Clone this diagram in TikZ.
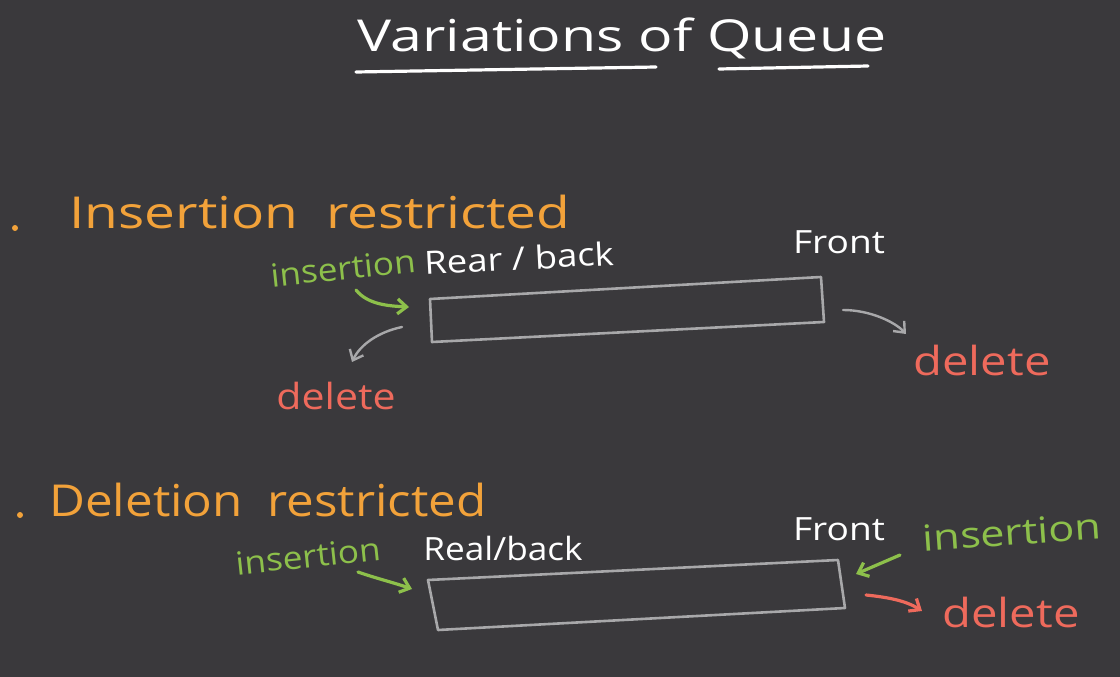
\documentclass[tikz,border=0pt]{standalone}
\usepackage{fontspec}
\setmainfont{Open Sans}
\usetikzlibrary{arrows.meta}
\definecolor{bg}{HTML}{3A393C}
\definecolor{orng}{HTML}{F2A23A}
\definecolor{grn}{HTML}{8DC04B}
\definecolor{redd}{HTML}{EE6A5C}
\definecolor{gry}{HTML}{A8A8AA}
\begin{document}
\begin{tikzpicture}[x=1pt,y=-1pt,
  title/.style={text=white,font=\fontsize{44}{48}\selectfont,inner sep=0pt},
  heading/.style={text=orng,font=\fontsize{44}{48}\selectfont,inner sep=0pt},
  lbl/.style={text=white,font=\fontsize{32}{36}\selectfont,inner sep=0pt},
  ins/.style={text=grn,font=\fontsize{32}{36}\selectfont,inner sep=0pt},
  insbig/.style={text=grn,font=\fontsize{36}{40}\selectfont,inner sep=0pt},
  del/.style={text=redd,font=\fontsize{36}{40}\selectfont,inner sep=0pt},
  delbig/.style={text=redd,font=\fontsize{40}{44}\selectfont,inner sep=0pt},
  qbox/.style={draw=gry,line width=2.6pt,line join=round},
  garrow/.style={draw=grn,line width=3.2pt,line cap=round,-{Straight Barb[length=9pt,width=15pt,line width=3.2pt]}},
  rarrow/.style={draw=redd,line width=3.2pt,line cap=round,-{Straight Barb[length=9pt,width=15pt,line width=3.2pt]}},
  yarrow/.style={draw=gry,line width=2.4pt,line cap=round,-{Straight Barb[length=9pt,width=15pt,line width=2.4pt]}},
  uline/.style={draw=white,line width=3.2pt,line cap=round},
  dot/.style={circle,fill=orng,inner sep=0pt,minimum size=6pt}]
\fill[bg] (0,0) rectangle (1120,677);
\useasboundingbox (0,0) rectangle (1120,677);

% title
\node[title] (title) at (622,38) {\scalebox{1.3}[1]{Variations of Queue}};
\coordinate (u1a) at (356,72); \coordinate (u1b) at (656,67);
\coordinate (u2a) at (719,69); \coordinate (u2b) at (868,66);
\draw[uline] (u1a) -- (u1b);
\draw[uline] (u2a) -- (u2b);

% ---------- Insertion restricted ----------
\node[dot] (b1) at (15,228) {};
\node[heading] (h1) at (320,212) {\scalebox{1.25}[1]{Insertion\hspace{0.5em}restricted}};
\node[ins,rotate=6] (ins1) at (343,268) {\scalebox{1.1}[1]{insertion}};
\node[lbl,rotate=3] (rear1) at (519,258) {\scalebox{1.14}[1]{Rear / back}};
\node[lbl] (front1) at (839,242) {\scalebox{1.16}[1]{Front}};
\coordinate (q1a) at (430,299); \coordinate (q1b) at (821,277);
\coordinate (q1c) at (824,322); \coordinate (q1d) at (432,342);
\draw[qbox] (q1a) -- (q1b) -- (q1c) -- (q1d) -- cycle;
\node[del] (d1) at (336,396) {\scalebox{1.14}[1]{delete}};
\node[delbig] (d2) at (982,360) {\scalebox{1.18}[1]{delete}};
\coordinate (a1s) at (356,290); \coordinate (a1e) at (409,307);
\draw[garrow] (a1s) .. controls (368,305) and (390,306) .. (a1e);
\coordinate (a2s) at (402,327); \coordinate (a2e) at (352,362);
\draw[yarrow] (a2s) .. controls (378,332) and (360,345) .. (a2e);
\coordinate (a3s) at (843,310); \coordinate (a3e) at (906,334);
\draw[yarrow] (a3s) .. controls (870,310) and (895,322) .. (a3e);

% ---------- Deletion restricted ----------
\node[dot] (b2) at (20,515) {};
\node[heading] (h2) at (268,500) {\scalebox{1.12}[1]{Deletion\hspace{0.5em}restricted}};
\node[ins,rotate=6] (ins2) at (308,556) {\scalebox{1.1}[1]{insertion}};
\node[lbl] (rear2) at (503,548) {\scalebox{1.1}[1]{Real/back}};
\node[lbl] (front2) at (839,529) {\scalebox{1.16}[1]{Front}};
\node[insbig,rotate=4] (ins3) at (1012,532) {\scalebox{1.2}[1]{insertion}};
\coordinate (q2a) at (428,580); \coordinate (q2b) at (838,560);
\coordinate (q2c) at (845,608); \coordinate (q2d) at (438,630);
\draw[qbox] (q2a) -- (q2b) -- (q2c) -- (q2d) -- cycle;
\node[delbig] (d3) at (1011,612) {\scalebox{1.18}[1]{delete}};
\coordinate (a4s) at (358,572); \coordinate (a4e) at (412,589);
\draw[garrow] (a4s) .. controls (375,578) and (395,583) .. (a4e);
\coordinate (a5s) at (900,555); \coordinate (a5e) at (856,574);
\draw[garrow] (a5s) -- (a5e);
\coordinate (a6s) at (866,595); \coordinate (a6e) at (922,611);
\draw[rarrow] (a6s) .. controls (885,597) and (905,600) .. (a6e);
\end{tikzpicture}
\end{document}
